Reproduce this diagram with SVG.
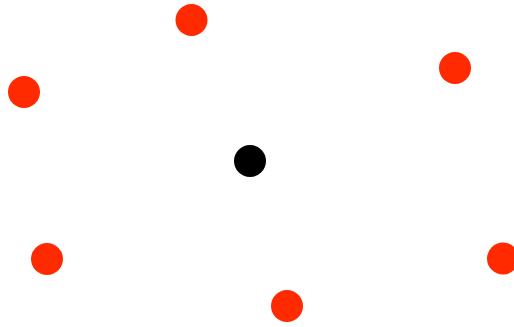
<svg xmlns="http://www.w3.org/2000/svg" width="514" height="327" viewBox="0 0 514 327">
<style>.r{fill:#ff2a00}.c{fill:#000}</style>
<rect width="514" height="327" fill="#fff"/>
<g id="center"><circle class="c" cx="250" cy="161" r="16"/></g>
<g id="n1"><circle class="r" cx="191.5" cy="20" r="16"/></g>
<g id="n2"><circle class="r" cx="24" cy="92" r="16"/></g>
<g id="n3"><circle class="r" cx="455" cy="68" r="16"/></g>
<g id="n4"><circle class="r" cx="47" cy="259" r="16"/></g>
<g id="n5"><circle class="r" cx="287" cy="306" r="16"/></g>
<g id="n6"><circle class="r" cx="503" cy="258.5" r="16"/></g>
<g id="connectors"></g>
</svg>
